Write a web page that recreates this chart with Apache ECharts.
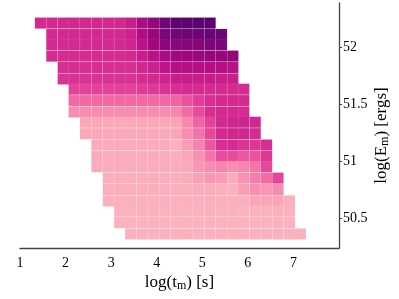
<!DOCTYPE html>
<html><head><meta charset="utf-8">
<script src="https://cdn.jsdelivr.net/npm/echarts@6/dist/echarts.min.js"></script>
<style>html,body{margin:0;padding:0;background:#fff}#c{width:399px;height:299px}</style>
</head><body><div id="c"></div>
<script>
// column centres, log(t_m) [s]
const logT = [1.45, 1.70, 1.95, 2.19, 2.44, 2.69, 2.94, 3.19, 3.43, 3.68, 3.93, 4.18,
              4.43, 4.67, 4.92, 5.17, 5.42, 5.67, 5.91, 6.16, 6.41, 6.66, 6.91, 7.15];
// row centres, log(E_m) [ergs], top row first
const logE = [52.21, 52.11, 52.02, 51.92, 51.82, 51.72, 51.63, 51.53, 51.43, 51.34,
              51.24, 51.14, 51.04, 50.95, 50.85, 50.75, 50.65, 50.56, 50.46, 50.36];
// first filled column of each row
const rowStart = [0, 1, 1, 1, 2, 2, 3, 3, 3, 4, 4, 5, 5, 5, 6, 6, 6, 7, 7, 8];
// cell values along each row (colour level 0..10)
const row01 = [5.1,5.1,5.1,5.1,5.1,5.1,5.1,5.1,5.6,6.6,7.4,8.6,9.6,9.6,9.7,9.8];
const row02 = [5.1,5.1,5.1,5.1,5.1,5.1,5.1,5.4,6.5,7.3,8.3,8.7,8.8,8.9,9.0,9.0];
const row03 = [5.05,5.05,5.05,5.05,5.05,5.05,5.05,5.25,6.1,6.9,7.7,7.8,7.9,8.0,8.2,8.3];
const row04 = [5.0,5.0,5.0,5.0,5.0,5.0,5.0,5.1,5.6,6.2,6.7,6.9,7.0,7.2,7.3,7.3,7.4];
const row05 = [4.9,4.9,4.9,4.9,4.9,4.9,4.9,5.15,5.5,6.0,6.3,6.3,6.35,6.4,6.4,6.25];
const row06 = [4.75,4.75,4.75,4.75,4.75,4.75,4.75,4.95,5.15,5.3,5.6,5.6,5.6,5.65,5.6,5.55];
const row07 = [4.2,4.2,4.2,4.2,4.2,4.2,4.4,4.5,4.7,4.85,4.95,5.0,5.0,5.0,5.0,4.95];
const row08 = [3.1,3.1,3.1,3.1,3.1,3.1,3.1,3.1,3.1,3.2,3.7,4.3,4.9,5.1,5.1,5.0];
const row09 = [2.0,2.0,2.0,2.0,2.0,2.0,2.0,2.0,2.0,2.2,3.0,3.9,4.9,5.05,5.0,4.95];
const row10 = [0.9,0.9,0.9,0.9,0.9,0.9,0.9,0.9,1.1,2.1,3.2,4.2,5.1,5.25,5.25,5.15];
const row11 = [0.9,0.9,0.9,0.9,0.9,0.9,0.9,0.9,1.0,2.0,2.8,4.0,5.1,5.2,5.2,5.0];
const row12 = [0.7,0.7,0.7,0.7,0.7,0.7,0.7,0.4,1.4,2.3,3.6,4.9,4.95,4.7,4.6,4.95];
const row13 = [0.6,0.6,0.6,0.6,0.6,0.6,0.6,0.5,1.0,1.8,2.8,3.9,3.9,3.6,3.7,4.6];
const row14 = [0.6,0.6,0.6,0.6,0.6,0.6,0.6,0.6,0.8,1.6,2.0,2.2,1.9,2.2,2.7,4.0];
const row15 = [0.5,0.5,0.5,0.5,0.5,0.5,0.5,0.6,1.2,1.6,1.4,0.6,1.8,2.5,3.0,4.1];
const row16 = [0.5,0.5,0.5,0.5,0.5,0.5,0.5,0.5,0.6,0.6,0.4,0.3,1.3,1.9,1.6,2.0];
const row17 = [0.4,0.4,0.4,0.4,0.4,0.4,0.4,0.4,0.4,0.4,0.4,0.4,0.5,1.1,1.1,1.1,0.4];
const row18 = [0.3,0.3,0.3,0.3,0.3,0.3,0.3,0.3,0.3,0.3,0.3,0.3,0.3,0.3,0.3,0.3];
const row19 = [0.3,0.3,0.3,0.3,0.3,0.3,0.3,0.3,0.3,0.3,0.3,0.3,0.3,0.3,0.3,0.3];
const row20 = [0.3,0.3,0.3,0.3,0.3,0.3,0.3,0.3,0.3,0.3,0.3,0.3,0.3,0.3,0.3,0.3];
const xTicks = [1, 2, 3, 4, 5, 6, 7];
const yTicks = [50.5, 51, 51.5, 52];
const yTickLabels = ['50.5', '51', '51.5', '52'];

const rows = [row01,row02,row03,row04,row05,row06,row07,row08,row09,row10,
              row11,row12,row13,row14,row15,row16,row17,row18,row19,row20];
const data = [];
rows.forEach((row, i) => row.forEach((z, k) => data.push([logT[rowStart[i] + k], logE[i], z])));

const CW = 0.248, CH = 0.0972;
const serif = 'Liberation Serif';
const chart = echarts.init(document.getElementById('c'), null, {renderer: 'canvas'});
chart.setOption({
  animation: false,
  backgroundColor: '#fff',
  grid: {left: 20, right: 60, top: 3, bottom: 51, outerBoundsMode: 'none', containLabel: false},
  xAxis: {
    type: 'value', min: 1, max: 8, interval: 1,
    axisLine: {show: true, lineStyle: {color: '#444', width: 1.3}},
    axisTick: {show: false},
    splitLine: {show: false},
    axisLabel: {showMaxLabel: false, color: '#000', fontFamily: serif, fontSize: 14, margin: 8,
      formatter: v => xTicks.includes(v) ? String(v) : ''},
    name: '{a|log(t}{s|m}{a|) [s]}',
    nameLocation: 'middle', nameGap: 25, nameMoveOverlap: false,
    nameTextStyle: {rich: {
      a: {fontFamily: serif, fontSize: 17, color: '#000'},
      s: {fontFamily: serif, fontSize: 12, color: '#000', padding: [7, 0, 0, 0]}
    }}
  },
  yAxis: {
    type: 'value', position: 'right', min: 50.237, max: 52.386,
    axisLine: {show: true, lineStyle: {color: '#444', width: 1.3}},
    axisTick: {show: true, customValues: yTicks, length: 3, lineStyle: {color: '#444'}},
    splitLine: {show: false},
    axisLabel: {customValues: yTicks, color: '#000', fontFamily: serif, fontSize: 14, margin: 4,
      formatter: v => { const i = yTicks.indexOf(v); return i >= 0 ? yTickLabels[i] : ''; }},
    name: '{a|log(E}{s|m}{a|) [ergs]}',
    nameLocation: 'middle', nameGap: 33, nameRotate: 90, nameMoveOverlap: false,
    nameTextStyle: {padding: [0, 20, 0, 0], rich: {
      a: {fontFamily: serif, fontSize: 17, color: '#000'},
      s: {fontFamily: serif, fontSize: 12, color: '#000', padding: [7, 0, 0, 0]}
    }}
  },
  visualMap: {
    show: false, type: 'continuous', min: 0, max: 10, dimension: 2,
    inRange: {color: ['#fcb5c1', '#fba6b8', '#f88cb0', '#f26ba5', '#e5489b', '#d42b91',
                      '#c0138a', '#a0067e', '#820779', '#690474', '#560070']}
  },
  series: [{
    type: 'custom',
    data: data,
    encode: {x: 0, y: 1},
    renderItem: (params, api) => {
      const x = api.value(0), y = api.value(1);
      const p0 = api.coord([x - CW / 2, y + CH / 2]);
      const p1 = api.coord([x + CW / 2, y - CH / 2]);
      return {type: 'rect',
        shape: {x: p0[0], y: p0[1], width: p1[0] - p0[0], height: p1[1] - p0[1]},
        style: {fill: api.visual('color'), stroke: 'rgba(255,255,255,0.1)', lineWidth: 0.6}};
    }
  }]
});
</script></body></html>
